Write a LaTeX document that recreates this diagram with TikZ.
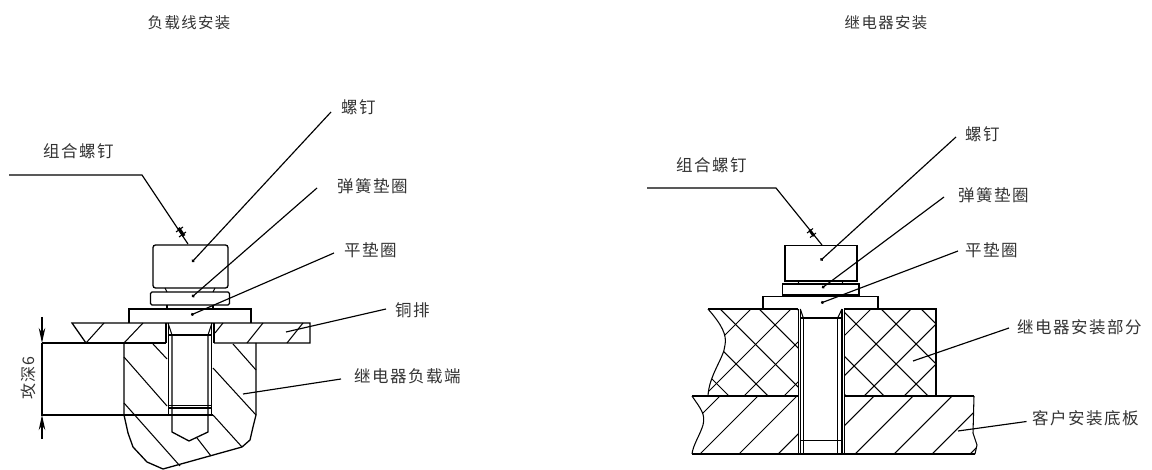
\documentclass[tikz,border=0pt]{standalone}
\usepackage{fontspec}
\newfontfamily\cjk[LetterSpace=9]{Noto Sans CJK SC}
\usetikzlibrary{arrows.meta}
\tikzset{
  outline/.style={line width=1.3pt},
  thinline/.style={line width=1.05pt},
  leader/.style={line width=1.15pt},
  lbl/.style={anchor=west, inner sep=0pt, text=black!80, font=\cjk\fontsize{16.5}{17}\selectfont},
  heading/.style={inner sep=0pt, text=black!80, font=\cjk\fontsize{15.4}{16}\selectfont},
  dimarrow/.style={-{Stealth[length=15pt,width=6.5pt]}, thinline}
}
\begin{document}
\begin{tikzpicture}[x=1pt, y=-1pt]
  \useasboundingbox (0,0) rectangle (1152,470);

  % Titulos
  \node[heading] (titleload) at (189,23) {负载线安装};
  \node[heading] (titlerelay) at (886,23) {继电器安装};

  % Izquierda: cabeza y arandelas
  \draw[outline, rounded corners=2.5pt] (153,288) rectangle (228,245);
  \draw[outline, rounded corners=1.5pt] (150.5,292) rectangle (229.5,305);
  \draw[outline] (129,323) -- (129,309) -- (251,309) -- (251,323);
  \draw[thinline] (165,288) -- (167,292) (215,288) -- (213,292);
  \draw[thinline] (167,305) -- (167,309) (213,305) -- (213,309);

  % Izquierda: barra de cobre
  \draw[outline] (86,343) -- (72,323) -- (310,323) -- (310,343) -- (214,343);
  \draw[outline] (166,343) -- (42,343);
  \draw[outline] (42,343) -- (42,415) -- (213,415);

  % Izquierda: terminal
  \draw[outline] (124,343) -- (124,415) -- (128,433) -- (133,447) -- (147,462) -- (163,469)
    -- (242,447) -- (250,440) -- (253,427) -- (256,415) -- (256,343);

  % Izquierda: tornillo
  \draw[thinline] (166,323) -- (166,343) (214,323) -- (214,343);
  \draw[thinline] (168.2,323) -- (168.2,415) (211.8,323) -- (211.8,415);
  \draw[outline] (172,335) -- (172,432) -- (189,441) -- (208,432) -- (208,335);
  \draw[thinline] (168,323) -- (172,335) (212,323) -- (208,335);
  \draw[thinline] (168,335) -- (212,335);
  \draw[thinline] (168,405.6) -- (212,405.6) (168,408) -- (212,408);

  % Izquierda: rayado
  \foreach \a/\b in {86/104,124/143,247/263,287/303}
    \draw[thinline] (\a,343) -- (\b,323);
  \draw[thinline] (215,333) -- (223,323);
  \draw[thinline] (153,344) -- (167,359) (124,357) -- (167,406) (124,403) -- (180,466);
  \draw[thinline] (233,344) -- (256,370) (213,368) -- (256,415);
  \draw[thinline] (213,415) -- (242,447) (197,438) -- (211,456);

  % Izquierda: cota
  \coordinate (depthtop) at (42,317);
  \coordinate (depthtopend) at (42,343);
  \coordinate (depthbot) at (42,439);
  \coordinate (depthbotend) at (42,415);
  \draw[dimarrow] (depthtop) -- (depthtopend);
  \draw[dimarrow] (depthbot) -- (depthbotend);
  \node[inner sep=0pt, rotate=90, text=black!80, font=\cjk\fontsize{16}{16}\selectfont] (depth) at (28,378) {攻深6};

  % Izquierda: rotulos
  \node[lbl] (comboL) at (43,151) {组合螺钉};
  \node[lbl] (screwL) at (341,107) {螺钉};
  \node[lbl] (springL) at (337,186) {弹簧垫圈};
  \node[lbl] (flatL) at (344,250) {平垫圈};
  \node[lbl] (copperL) at (395,310) {铜排};
  \node[lbl] (loadL) at (354,376) {继电器负载端};

  \coordinate (comboLa) at (9,175);
  \coordinate (comboLb) at (142,175);
  \coordinate (comboLc) at (188,244);
  \draw[leader] (comboLa) -- (comboLb) -- (comboLc);
  \draw[line width=3.2pt] (178.5,228) -- (184,236);
  \draw[line width=1.1pt] (176,232) -- (183,227) (179,237) -- (186,232);

  \coordinate (screwLa) at (192,262);
  \coordinate (screwLb) at (331,112);
  \coordinate (springLa) at (192,297);
  \coordinate (springLb) at (317,188);
  \coordinate (flatLa) at (191,315);
  \coordinate (flatLb) at (334,253);
  \coordinate (copperLa) at (286,332);
  \coordinate (copperLb) at (386,309);
  \coordinate (loadLa) at (243,394);
  \coordinate (loadLb) at (341,379);
  \draw[leader, {Circle[length=3pt]}-] (screwLa) -- (screwLb);
  \draw[leader, {Circle[length=3pt]}-] (springLa) -- (springLb);
  \draw[leader, {Circle[length=3pt]}-] (flatLa) -- (flatLb);
  \draw[leader] (copperLa) -- (copperLb);
  \draw[leader] (loadLa) -- (loadLb);

  % Derecha: rayado del bloque
  \begin{scope}
    \clip (708,309) -- (798,309) -- (798,396) -- (708,396) -- (710,385) -- (715,370)
      -- (724,352) -- (725,340) -- (722,325) -- cycle
      (844,309) rectangle (936,396);
    \foreach \k in {1060,1100,1140,1180,1220,1260,1300}
      \draw[thinline] (\k-200,200) -- (\k-500,500);
    \foreach \k in {333,372,411,450,488,532,572,612}
      \draw[thinline] (\k+200,200) -- (\k+500,500);
  \end{scope}

  % Derecha: rayado de la base
  \begin{scope}
    \clip (692,396) -- (798,396) -- (798,454) -- (692,454) -- (695,440) -- (704,420)
      -- (703,412) -- cycle
      (844,396) -- (974,396) -- (973,433) -- (977,445) -- (975,454) -- (844,454) -- cycle;
    \foreach \k in {1116,1154,1193,1232,1270,1309,1348,1386,1424}
      \draw[thinline] (\k-300,300) -- (\k-500,500);
  \end{scope}

  % Derecha: bloque y base
  \draw[outline] (798,309) -- (708,309);
  \draw[thinline] (708,309) .. controls (722,325) and (727,335) .. (725,345)
    .. controls (724,358) and (709,375) .. (708,396);
  \draw[outline] (844,309) -- (936,309) -- (936,396);
  \draw[outline] (798,396) -- (692,396);
  \draw[thinline] (692,396) .. controls (700,408) and (706,414) .. (703,425)
    .. controls (700,435) and (693,445) .. (692,454);
  \draw[outline] (844,396) -- (974,396);
  \draw[thinline] (974,396) -- (973,433) -- (977,445) -- (975,454);
  \draw[outline] (692,454) -- (975,454);

  % Derecha: cabeza y arandelas
  \draw[outline] (785,281) -- (785,245.5) -- (857,245.5) -- (857,281) -- cycle;
  \draw[outline] (782.5,295) rectangle (859,284);
  \draw[outline] (763,309) -- (763,296.5) -- (878,296.5) -- (878,309);
  \draw[thinline] (798,281) -- (799,284) (843,281) -- (842,284);

  % Derecha: tornillo
  \draw[thinline] (798.3,309) -- (798.3,454) (800.5,309) -- (800.5,454);
  \draw[thinline] (842,309) -- (842,454) (844.3,309) -- (844.3,454);
  \draw[thinline] (803.3,318) -- (803.3,454) (837.7,318) -- (837.7,454);
  \draw[thinline] (800.3,309) -- (803.3,318) (842,309) -- (837.7,318);
  \draw[thinline] (800.3,318) -- (842,318);
  \draw[thinline] (800.3,440.7) -- (842,440.7);

  % Derecha: rotulos
  \node[lbl] (comboR) at (676,165) {组合螺钉};
  \node[lbl] (screwR) at (965,134) {螺钉};
  \node[lbl] (springR) at (958,195) {弹簧垫圈};
  \node[lbl] (flatR) at (965,250) {平垫圈};
  \node[lbl] (relayR) at (1017,327) {继电器安装部分};
  \node[lbl] (baseR) at (1032,418) {客户安装底板};

  \coordinate (comboRa) at (647,188);
  \coordinate (comboRb) at (776,188);
  \coordinate (comboRc) at (822,245);
  \draw[leader] (comboRa) -- (comboRb) -- (comboRc);
  \draw[line width=2.8pt] (809.5,230) -- (814,236);
  \draw[line width=1pt] (807,233) -- (813,228.5) (810,237.5) -- (816,233);

  \coordinate (screwRa) at (820.5,260.5);
  \coordinate (screwRb) at (956,137);
  \coordinate (springRa) at (822,288);
  \coordinate (springRb) at (944,197);
  \coordinate (flatRa) at (821,303);
  \coordinate (flatRb) at (958,251);
  \coordinate (relayRa) at (913,361);
  \coordinate (relayRb) at (1009,328);
  \coordinate (baseRa) at (958,431);
  \coordinate (baseRb) at (1026.5,421.5);
  \draw[leader, {Circle[length=3pt]}-] (screwRa) -- (screwRb);
  \draw[leader, {Circle[length=3pt]}-] (springRa) -- (springRb);
  \draw[leader, {Circle[length=3pt]}-] (flatRa) -- (flatRb);
  \draw[leader] (relayRa) -- (relayRb);
  \draw[leader] (baseRa) -- (baseRb);
\end{tikzpicture}
\end{document}
